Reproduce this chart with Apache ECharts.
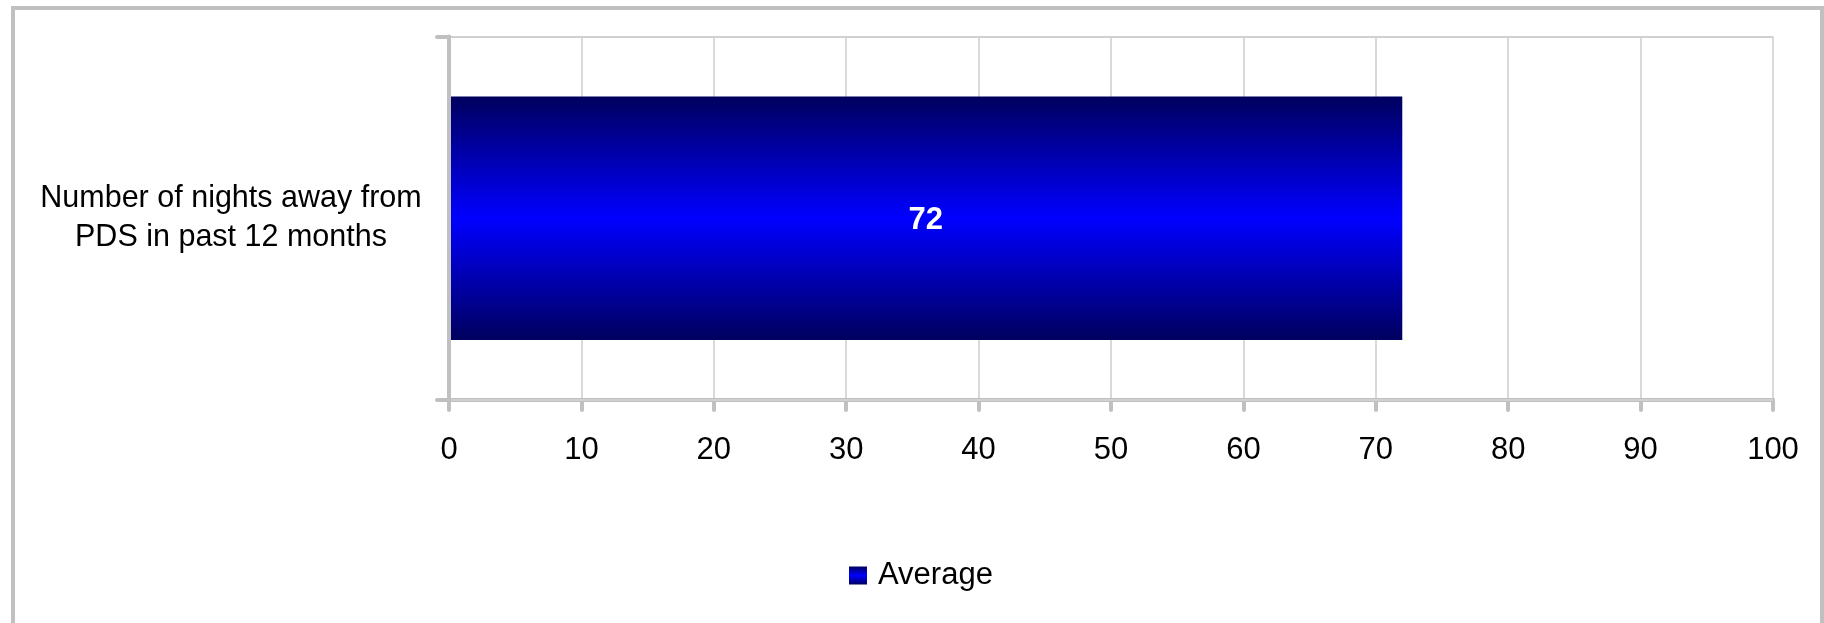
<!DOCTYPE html>
<html>
<head>
<meta charset="utf-8">
<script src="https://cdn.jsdelivr.net/npm/echarts@6/dist/echarts.min.js"></script>
<style>
html,body{margin:0;padding:0;background:#fff;}
#chart{width:1824px;height:623px;}
</style>
</head>
<body>
<div id="chart"></div>
<script>
const categories = ['Number of nights away from\nPDS in past 12 months'];
const seriesName = 'Average';
const averageValues = [72];
const axisMin = 0;
const axisMax = 100;
const axisStep = 10;

const FONT = '"Liberation Sans", Arial, sans-serif';
const chart = echarts.init(document.getElementById('chart'), null, {renderer: 'canvas'});
const barGradient = new echarts.graphic.LinearGradient(0, 0, 0, 1, [
  {offset: 0, color: '#00005e'},
  {offset: 0.5, color: '#0000ff'},
  {offset: 1, color: '#00005e'}
]);
chart.setOption({
  animation: false,
  backgroundColor: '#ffffff',
  textStyle: {fontFamily: FONT},
  grid: {left: 449, right: 51, top: 36.5, bottom: 223, containLabel: false},
  graphic: [{
    type: 'rect',
    shape: {x: 13, y: 8, width: 1809, height: 700},
    style: {fill: 'none', stroke: '#c0c0c0', lineWidth: 4},
    silent: true, z: -1
  }],
  legend: {
    data: [seriesName],
    left: 844,
    top: 555,
    icon: 'rect',
    itemWidth: 18,
    itemHeight: 18,
    itemGap: 11,
    textStyle: {fontSize: 31, color: '#000', fontFamily: FONT, padding: [0, 0, 0, 6]}
  },
  xAxis: {
    type: 'value',
    min: axisMin,
    max: axisMax,
    interval: axisStep,
    axisLine: {show: true, lineStyle: {color: '#c0c0c0', width: 4, cap: 'round'}},
    axisTick: {show: true, length: 10, lineStyle: {color: '#c0c0c0', width: 4, cap: 'round'}},
    axisLabel: {fontSize: 31, color: '#000', margin: 35, fontFamily: FONT},
    splitLine: {show: true, lineStyle: {color: '#d9d9d9', width: 2}}
  },
  yAxis: {
    type: 'category',
    data: categories,
    z: 5,
    axisLine: {show: true, lineStyle: {color: '#c0c0c0', width: 4, cap: 'round'}},
    axisTick: {show: true, length: 12, lineStyle: {color: '#c0c0c0', width: 4, cap: 'round'}},
    axisLabel: {fontSize: 30.5, color: '#000', margin: 218, align: 'center', lineHeight: 39, fontFamily: FONT},
    splitLine: {show: true, lineStyle: {color: '#d0d0d0', width: 2}}
  },
  series: [{
    name: seriesName,
    type: 'bar',
    data: averageValues,
    barCategoryGap: '33%',
    itemStyle: {color: barGradient},
    label: {show: true, position: 'inside', color: '#fff', fontWeight: 'bold', fontSize: 31, fontFamily: FONT, offset: [0, 2]}
  }]
});
</script>
</body>
</html>
